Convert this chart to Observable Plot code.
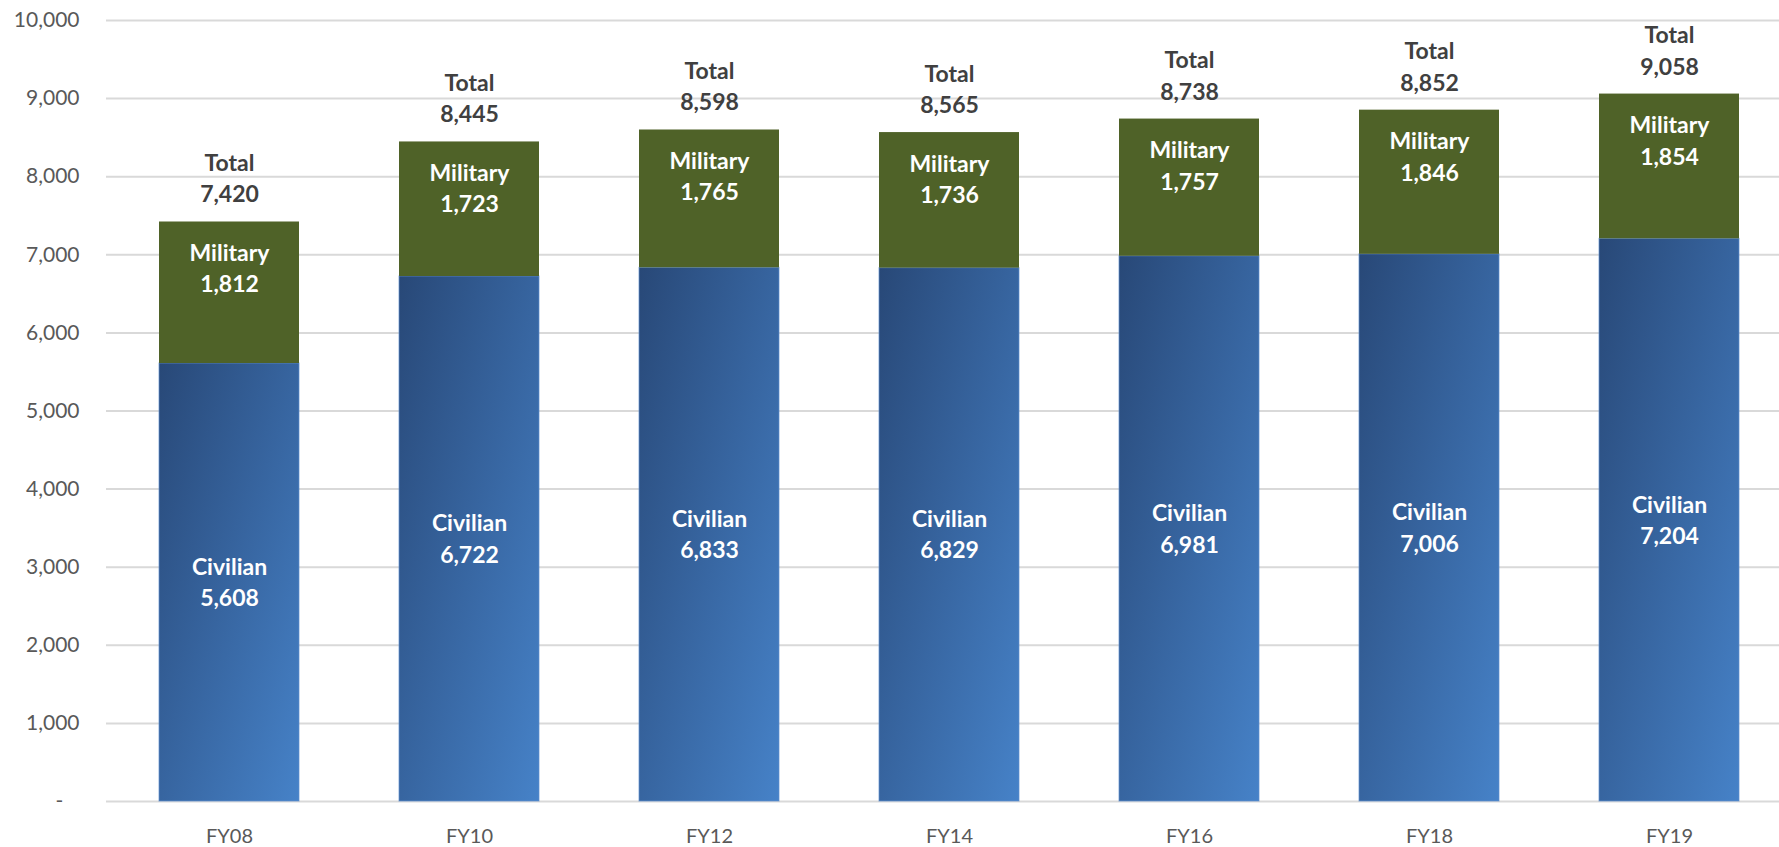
<!DOCTYPE html>
<html>
<head>
<meta charset="utf-8">
<script src="https://cdn.jsdelivr.net/npm/d3@7"></script>
<script src="https://cdn.jsdelivr.net/npm/@observablehq/plot@0.6"></script>
<style>
  html, body { margin: 0; padding: 0; background: #fff; }
  #chart svg { display: block; }
</style>
</head>
<body>
<div id="chart"></div>
<script>
const years = ["FY08", "FY10", "FY12", "FY14", "FY16", "FY18", "FY19"];
const civilian = [5608, 6722, 6833, 6829, 6981, 7006, 7204];
const military = [1812, 1723, 1765, 1736, 1757, 1846, 1854];
const totals = [7420, 8445, 8598, 8565, 8738, 8852, 9058];
const yTicks = [0, 1000, 2000, 3000, 4000, 5000, 6000, 7000, 8000, 9000, 10000];

const rows = years.map((y, i) => ({
  year: y, civ: civilian[i], mil: military[i], total: totals[i]
}));
const fmt = d3.format(",");
const FONT = 23;

const chart = Plot.plot({
  width: 1779,
  height: 847,
  marginLeft: 106,
  marginRight: 0,
  marginTop: 20,
  marginBottom: 46,
  style: { fontFamily: "Lato, 'Open Sans', sans-serif", color: "#595959", background: "#fff" },
  x: { domain: years, range: [55.3, 1841.3], padding: 0.4185, label: null },
  y: { domain: [0, 10000], label: null },
  marks: [
    Plot.ruleY(yTicks, { stroke: "#D9D9D9", strokeWidth: 2 }),
    Plot.barY(rows, { x: "year", y1: 0, y2: "civ", fill: "url(#civGrad)", stroke: "#5F8FCF", strokeWidth: 1, strokeOpacity: 0.7 }),
    Plot.barY(rows, { x: "year", y1: "civ", y2: "total", fill: "#4F6228" }),
    Plot.axisY({
      ticks: yTicks, tickSize: 0, tickPadding: 27, fontSize: 21,
      tickFormat: d => d === 0 ? "-\u00A0\u00A0\u00A0" : fmt(d)
    }),
    Plot.axisX({ tickSize: 0, tickPadding: 27, fontSize: 20 }),
    Plot.text(rows, {
      x: "year", y: "total", text: d => "Total\n" + fmt(d.total),
      lineAnchor: "bottom", lineHeight: 1.36, dy: -19.5,
      fill: "#404040", fontWeight: "bold", fontSize: FONT
    }),
    Plot.text(rows, {
      x: "year", y: "total", text: d => "Military\n" + fmt(d.mil),
      lineAnchor: "top", lineHeight: 1.36, dy: 17,
      fill: "#fff", fontWeight: "bold", fontSize: FONT
    }),
    Plot.text(rows, {
      x: "year", y: d => d.civ / 2, text: d => "Civilian\n" + fmt(d.civ),
      lineAnchor: "middle", lineHeight: 1.36, dy: -2,
      fill: "#fff", fontWeight: "bold", fontSize: FONT
    })
  ]
});

const ns = "http://www.w3.org/2000/svg";
const defs = document.createElementNS(ns, "defs");
defs.innerHTML = `<linearGradient id="civGrad" x1="0" y1="0" x2="1" y2="1">
  <stop offset="0" stop-color="#284877"/>
  <stop offset="0.5" stop-color="#3765A0"/>
  <stop offset="1" stop-color="#4682C8"/>
</linearGradient>`;
chart.insertBefore(defs, chart.firstChild);
document.getElementById("chart").appendChild(chart);
</script>
</body>
</html>
